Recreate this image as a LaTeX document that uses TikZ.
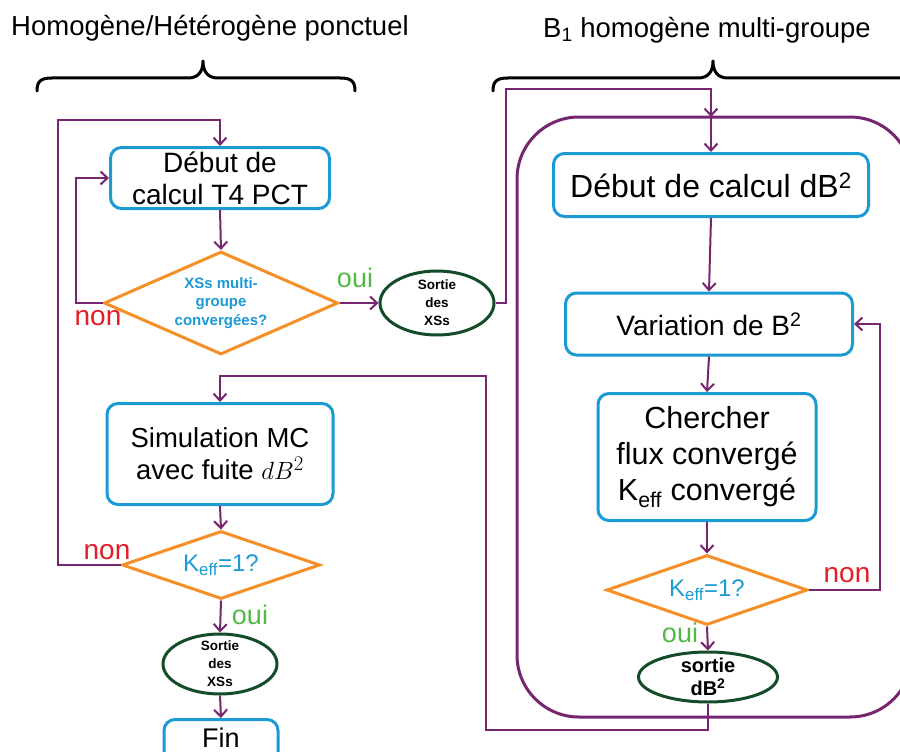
\documentclass[tikz,border=0pt]{standalone}
\usepackage{fontspec}
\setmainfont{Liberation Sans}
\usetikzlibrary{shapes.geometric,arrows.meta}
\definecolor{cpurple}{RGB}{118,38,112}
\definecolor{cblue}{RGB}{28,154,212}
\definecolor{corange}{RGB}{245,143,40}
\definecolor{cdgreen}{RGB}{20,75,40}
\definecolor{cred}{RGB}{226,30,40}
\definecolor{cgreenlab}{RGB}{80,185,70}
\tikzset{
 box/.style={draw=cblue, line width=3pt, rounded corners=11pt, fill=white, align=center, inner sep=0pt},
 dia/.style={diamond, draw=corange, line width=3pt, align=center, inner sep=0pt, text=cblue, fill=white},
 ell/.style={ellipse, draw=cdgreen, line width=3pt, inner sep=0pt, fill=white},
 etext/.style={align=center, font=\bfseries\fontsize{13.5}{18}\selectfont, inner sep=0pt},
 conn/.style={draw=cpurple, line width=2pt, -{Straight Barb[length=7pt,width=13pt,line width=2pt]}},
 nonlab/.style={text=cred, font=\fontsize{28}{28}\selectfont, inner sep=0pt},
 ouilab/.style={text=cgreenlab, font=\fontsize{27}{27}\selectfont, inner sep=0pt},
 title/.style={font=\fontsize{27.5}{32}\selectfont, inner sep=0pt},
 brace/.style={draw=black, line width=3pt, line cap=round, line join=round}
}
\begin{document}
\begin{tikzpicture}[x=1pt,y=-1pt]
\useasboundingbox (0,0) rectangle (900,752);
\clip (0,0) rectangle (900,752);
\fill[white] (0,0) rectangle (900,752);

% titles
\node[title] (t1) at (210,28) {Homogène/Hétérogène ponctuel};
\node[title] (t2) at (707,30) {B\textsubscript{1} homogène multi-groupe};

% braces
\draw[brace] (37,91) .. controls (37,81) and (41,78) .. (52,78) -- (188,78)
  .. controls (198,78) and (203,72) .. (203,61)
  .. controls (203,72) and (208,78) .. (218,78) -- (340,78)
  .. controls (351,78) and (355,81) .. (355,91);
\draw[brace] (493,91) .. controls (493,81) and (497,78) .. (508,78) -- (698,78)
  .. controls (708,78) and (713,72) .. (713,61)
  .. controls (713,72) and (718,78) .. (728,78) -- (920,78);

% container
\draw[draw=cpurple, line width=3pt, rounded corners=62pt] (517,117) rectangle (912,717);

% left column
\node[box, minimum width=219, minimum height=61, font=\fontsize{28}{32}\selectfont] (b1) at (220,178) {Début de\\calcul T4 PCT};
\node[dia, minimum width=234, minimum height=103, aspect=2.27, font=\bfseries\fontsize{15}{18.5}\selectfont] (d1) at (221,303) {XSs multi-\\groupe\\convergées?};
\node[ell, minimum width=114, minimum height=64] (s1) at (437,303) {};
\node[etext] (s1t) at (437,303) {Sortie\\des\\XSs};

\node[box, minimum width=226, minimum height=101, font=\fontsize{27.5}{32}\selectfont] (b5) at (220,454) {Simulation MC\\avec fuite $dB^2$};
\node[dia, minimum width=198, minimum height=68, aspect=2.9, font=\fontsize{24}{26}\selectfont] (d3) at (221,565) {K\textsubscript{eff}=1?};
\node[ell, minimum width=114, minimum height=60] (s3) at (220,664) {};
\node[etext] (s3t) at (220,664) {Sortie\\des\\XSs};
\node[box, minimum width=114, minimum height=60, anchor=north] (fin) at (221,718) {};
\node[font=\fontsize{27}{30}\selectfont, inner sep=0pt, anchor=base] (fint) at (221,747) {Fin};

% right column
\node[box, minimum width=315, minimum height=63, font=\fontsize{32}{36}\selectfont] (b2) at (711,185) {Début de calcul dB\textsuperscript{2}};
\node[box, minimum width=287, minimum height=62, font=\fontsize{28}{34}\selectfont] (b3) at (709,324) {Variation de B\textsuperscript{2}};
\node[box, minimum width=218, minimum height=127, font=\fontsize{30.5}{36}\selectfont] (b4) at (707,457) {Chercher\\flux convergé\\K\textsubscript{eff} convergé};
\node[dia, minimum width=201, minimum height=70, aspect=2.87, font=\fontsize{24}{26}\selectfont] (d2) at (707,590) {K\textsubscript{eff}=1?};
\node[ell, minimum width=139, minimum height=50] (s2) at (708,677) {};
\node[etext, font=\bfseries\fontsize{20}{23}\selectfont] (s2t) at (708,677) {sortie\\dB\textsuperscript{2}};

% labels
\node[nonlab] (n1) at (98,318) {non};
\node[ouilab] (o1) at (355,278) {oui};
\node[nonlab] (n3) at (107,552) {non};
\node[ouilab] (o3) at (250,615) {oui};
\node[nonlab] (n2) at (847,575) {non};
\node[ouilab] (o2) at (680,633) {oui};

% coordinates
\coordinate (cL) at (58,120);
\coordinate (cN1) at (76,178);
\coordinate (cR1) at (506,89);
\coordinate (ctop) at (b2.north |- 0,117);
\coordinate (cN2) at (880,590);
\coordinate (cB1) at (486,730);
\coordinate (cB2) at (486,376);

% connectors
\draw[conn] (d3.west) -| (cL) -| (b1.north);
\draw[conn] (d1.west) -| (cN1) -- (b1.west);
\draw[conn] (b1.south) -- (d1.north);
\draw[conn] (d1.east) -- (s1.west);
\draw[conn] (s1.east) -| (cR1) -| (ctop);
\draw[conn] (ctop) -- (b2.north);
\draw[conn] (b2.south) -- (b3.north);
\draw[conn] (b3.south) -- (b4.north);
\draw[conn] (b4.south) -- (d2.north);
\draw[conn] (d2.east) -- (cN2) |- (b3.east);
\draw[conn] (d2.south) -- (s2.north);
\draw[conn] (s2.south) |- (cB1) -- (cB2) -| (b5.north);
\draw[conn] (b5.south) -- (d3.north);
\draw[conn] (d3.south) -- (s3.north);
\draw[conn] (s3.south) -- (fin.north);
\end{tikzpicture}
\end{document}
